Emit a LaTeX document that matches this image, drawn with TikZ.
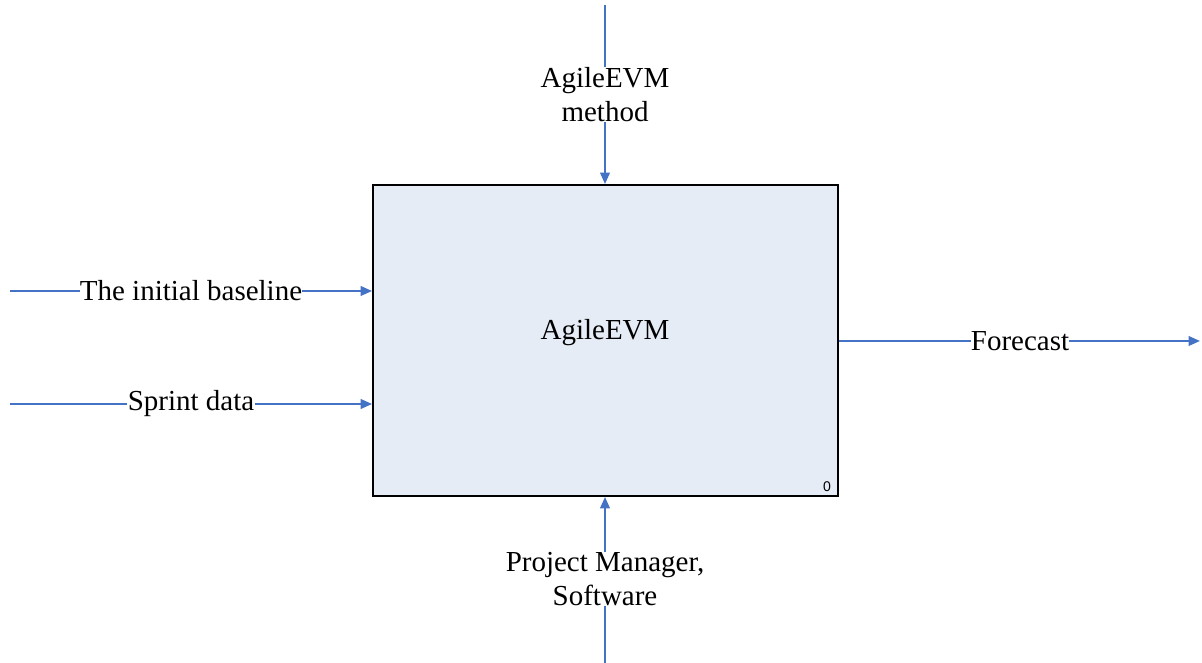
\documentclass[tikz,border=0pt]{standalone}
\usepackage{fontspec}
\setmainfont{Liberation Serif}
\newfontfamily\numfont{Liberation Sans}
\usetikzlibrary{arrows.meta}
\definecolor{flowblue}{RGB}{68,114,196}
\definecolor{boxfill}{RGB}{230,236,246}
\tikzset{
    wire/.style={draw=flowblue, line width=1.1pt},
    flow/.style={wire, -{Triangle[length=6.5pt,width=5.5pt]}},
    lab/.style={inner sep=0pt, align=center, font=\fontsize{16.5}{19.3}\selectfont}
}

\begin{document}
\begin{tikzpicture}
    \useasboundingbox (0,0) rectangle (24.04,13.26);
    \node[draw, line width=1.1pt, fill=boxfill, minimum width=9.3cm, minimum height=6.22cm, inner sep=0pt](act) at (12.11,6.45){};
    \node[lab](actname) at (12.1,6.6){AgileEVM};
    \node[font=\numfont\fontsize{8}{9}\selectfont, inner sep=0pt](num) at (16.54,3.52){0};
    % inputs
    \coordinate(in1) at (0.2,7.44);
    \coordinate(in2) at (0.2,5.18);
    \node[lab](base) at (3.82,7.44){The initial baseline};
    \node[lab](sprint) at (3.82,5.18){Sprint data};
    \draw[wire](in1)--(base);
    \draw[flow](base)--(base-|act.west);
    \draw[wire](in2)--(sprint);
    \draw[flow](sprint)--(sprint-|act.west);
    % output
    \coordinate(out) at (24.0,6.44);
    \node[lab](fc) at (20.4,6.44){Forecast};
    \draw[wire](act.east|-fc)--(fc);
    \draw[flow](fc)--(out);
    % control
    \coordinate(ctl) at (12.1,13.16);
    \node[lab](meth) at (12.1,11.37){AgileEVM\\method};
    \draw[wire](ctl)--(meth);
    \draw[flow](meth)--(meth|-act.north);
    % mechanism
    \coordinate(mech) at (12.1,0);
    \node[lab](pm) at (12.1,1.68){Project Manager,\\Software};
    \draw[wire](mech)--(pm);
    \draw[flow](pm)--(pm|-act.south);
\end{tikzpicture}
\end{document}
